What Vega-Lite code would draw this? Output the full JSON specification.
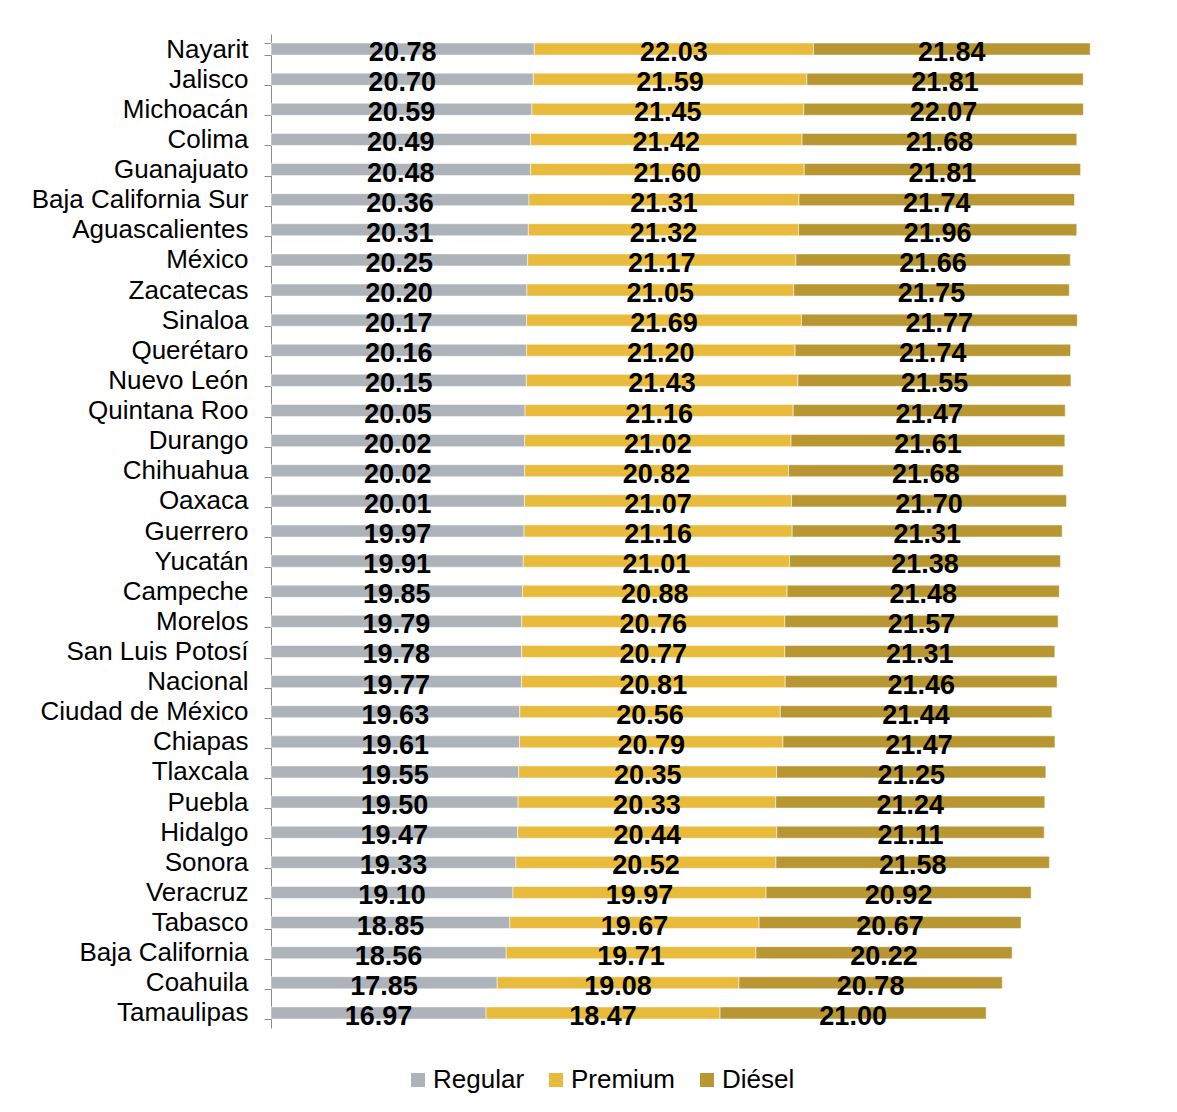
{
  "$schema": "https://vega.github.io/schema/vega-lite/v6.json",
  "width": 887,
  "height": 994,
  "autosize": {"type": "none"},
  "padding": {"left": 271, "top": 34, "right": 19, "bottom": 84},
  "background": "white",
  "config": {"view": {"stroke": null}, "font": "Liberation Sans"},
  "data": {"values": [
    {"estado": "Nayarit", "Regular": 20.78, "Premium": 22.03, "Diésel": 21.84},
    {"estado": "Jalisco", "Regular": 20.70, "Premium": 21.59, "Diésel": 21.81},
    {"estado": "Michoacán", "Regular": 20.59, "Premium": 21.45, "Diésel": 22.07},
    {"estado": "Colima", "Regular": 20.49, "Premium": 21.42, "Diésel": 21.68},
    {"estado": "Guanajuato", "Regular": 20.48, "Premium": 21.60, "Diésel": 21.81},
    {"estado": "Baja California Sur", "Regular": 20.36, "Premium": 21.31, "Diésel": 21.74},
    {"estado": "Aguascalientes", "Regular": 20.31, "Premium": 21.32, "Diésel": 21.96},
    {"estado": "México", "Regular": 20.25, "Premium": 21.17, "Diésel": 21.66},
    {"estado": "Zacatecas", "Regular": 20.20, "Premium": 21.05, "Diésel": 21.75},
    {"estado": "Sinaloa", "Regular": 20.17, "Premium": 21.69, "Diésel": 21.77},
    {"estado": "Querétaro", "Regular": 20.16, "Premium": 21.20, "Diésel": 21.74},
    {"estado": "Nuevo León", "Regular": 20.15, "Premium": 21.43, "Diésel": 21.55},
    {"estado": "Quintana Roo", "Regular": 20.05, "Premium": 21.16, "Diésel": 21.47},
    {"estado": "Durango", "Regular": 20.02, "Premium": 21.02, "Diésel": 21.61},
    {"estado": "Chihuahua", "Regular": 20.02, "Premium": 20.82, "Diésel": 21.68},
    {"estado": "Oaxaca", "Regular": 20.01, "Premium": 21.07, "Diésel": 21.70},
    {"estado": "Guerrero", "Regular": 19.97, "Premium": 21.16, "Diésel": 21.31},
    {"estado": "Yucatán", "Regular": 19.91, "Premium": 21.01, "Diésel": 21.38},
    {"estado": "Campeche", "Regular": 19.85, "Premium": 20.88, "Diésel": 21.48},
    {"estado": "Morelos", "Regular": 19.79, "Premium": 20.76, "Diésel": 21.57},
    {"estado": "San Luis Potosí", "Regular": 19.78, "Premium": 20.77, "Diésel": 21.31},
    {"estado": "Nacional", "Regular": 19.77, "Premium": 20.81, "Diésel": 21.46},
    {"estado": "Ciudad de México", "Regular": 19.63, "Premium": 20.56, "Diésel": 21.44},
    {"estado": "Chiapas", "Regular": 19.61, "Premium": 20.79, "Diésel": 21.47},
    {"estado": "Tlaxcala", "Regular": 19.55, "Premium": 20.35, "Diésel": 21.25},
    {"estado": "Puebla", "Regular": 19.50, "Premium": 20.33, "Diésel": 21.24},
    {"estado": "Hidalgo", "Regular": 19.47, "Premium": 20.44, "Diésel": 21.11},
    {"estado": "Sonora", "Regular": 19.33, "Premium": 20.52, "Diésel": 21.58},
    {"estado": "Veracruz", "Regular": 19.10, "Premium": 19.97, "Diésel": 20.92},
    {"estado": "Tabasco", "Regular": 18.85, "Premium": 19.67, "Diésel": 20.67},
    {"estado": "Baja California", "Regular": 18.56, "Premium": 19.71, "Diésel": 20.22},
    {"estado": "Coahuila", "Regular": 17.85, "Premium": 19.08, "Diésel": 20.78},
    {"estado": "Tamaulipas", "Regular": 16.97, "Premium": 18.47, "Diésel": 21.00}
  ]},
  "transform": [
    {"fold": ["Regular", "Premium", "Diésel"], "as": ["tipo", "precio"]},
    {"stack": "precio", "groupby": ["estado"], "as": ["p0", "p1"]},
    {"calculate": "(datum.p0 + datum.p1) / 2", "as": "pm"}
  ],
  "encoding": {
    "y": {
      "field": "estado",
      "type": "nominal",
      "sort": null,
      "scale": {"paddingInner": 0.6, "paddingOuter": 0.3},
      "axis": {
        "title": null,
        "domainColor": "#8c8c8c",
        "tickColor": "#8c8c8c",
        "tickSize": 7,
        "tickBand": "extent",
        "labelFontSize": 26,
        "labelColor": "#000000",
        "labelPadding": 16,
        "labelFont": "Liberation Sans",
        "labelLimit": 400
      }
    }
  },
  "layer": [
    {
      "mark": {"type": "bar", "stroke": "white", "strokeWidth": 1, "strokeOpacity": 0.5},
      "encoding": {
        "x": {"field": "p0", "type": "quantitative", "scale": {"domain": [0, 70]}, "axis": null},
        "x2": {"field": "p1"},
        "color": {
          "field": "tipo",
          "type": "nominal",
          "scale": {"domain": ["Regular", "Premium", "Diésel"], "range": ["#adb3b9", "#e8bb3c", "#b89733"]},
          "legend": {
            "orient": "none",
            "legendX": 134,
            "legendY": 1033,
            "direction": "horizontal",
            "title": null,
            "symbolType": "square",
            "symbolSize": 196,
            "symbolStrokeWidth": 0,
            "labelFontSize": 26,
            "labelColor": "#000000",
            "labelOffset": 2,
            "columnPadding": 18,
            "labelFont": "Liberation Sans",
            "padding": 0
          }
        }
      }
    },
    {
      "mark": {"type": "text", "fontWeight": "bold", "fontSize": 27, "dy": 4, "color": "#000000", "font": "Liberation Sans"},
      "encoding": {
        "x": {"field": "pm", "type": "quantitative", "scale": {"domain": [0, 70]}, "axis": null},
        "text": {"field": "precio", "type": "quantitative", "format": ".2f"}
      }
    }
  ]
}
